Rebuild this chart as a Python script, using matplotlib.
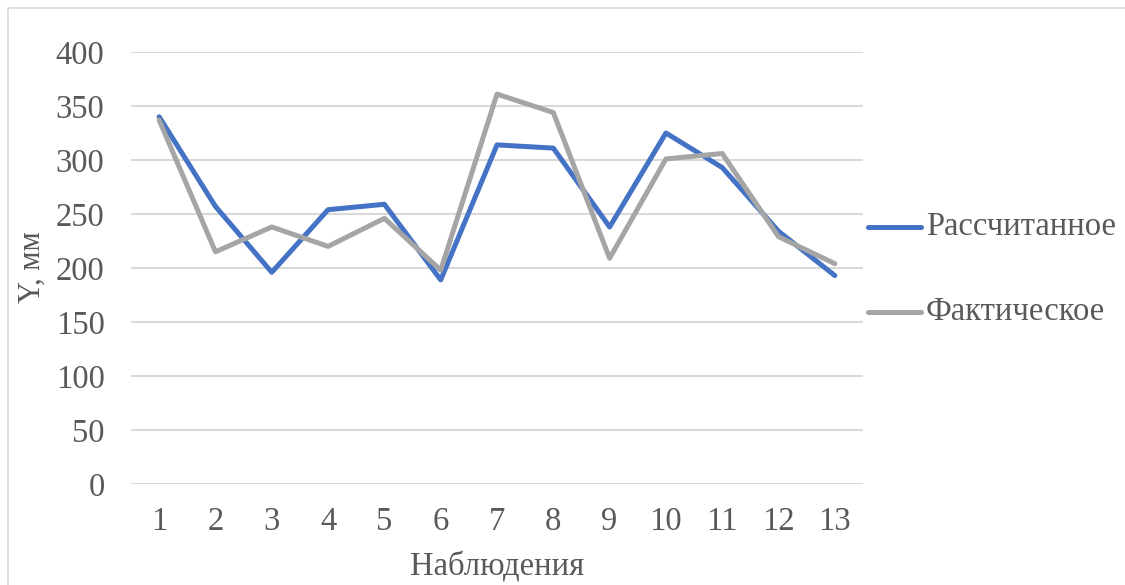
import matplotlib
matplotlib.use("Agg")
import matplotlib.pyplot as plt
from matplotlib.patches import Rectangle
from matplotlib.lines import Line2D

categories = ["1", "2", "3", "4", "5", "6", "7", "8", "9", "10", "11", "12", "13"]
calculated = [340, 257, 196, 254, 259, 189, 314, 311, 238, 325, 293, 234, 193]
actual = [337, 215, 238, 220, 246, 198, 361, 344, 209, 301, 306, 229, 204]
series_names = ["Рассчитанное", "Фактическое"]
y_ticks = [0, 50, 100, 150, 200, 250, 300, 350, 400]

plt.rcParams["font.family"] = ["Liberation Serif", "DejaVu Serif"]

W, H = 1125, 585
fig = plt.figure(figsize=(W / 100, H / 100), dpi=100)

# chart border
fig.patches.append(Rectangle((8 / W, -0.1), 1.2, 1 - 8 / H + 0.1, transform=fig.transFigure,
                             fill=False, edgecolor="#D9D9D9", linewidth=1.2))

ax = fig.add_axes([131 / W, 1 - 484 / H, (863 - 131) / W, (484 - 52) / H])
x = list(range(1, len(categories) + 1))
ax.plot(x, calculated, color="#4472C4", linewidth=3.6, solid_joinstyle="round", solid_capstyle="round")
ax.plot(x, actual, color="#A5A5A5", linewidth=3.6, solid_joinstyle="round", solid_capstyle="round")

ax.set_xlim(0.5, len(categories) + 0.5)
ax.set_ylim(0, 400)
ax.set_yticks(y_ticks)
ax.set_xticks(x)
ax.set_xticklabels(categories)
ax.grid(axis="y", color="#D9D9D9", linewidth=1.5)
ax.set_axisbelow(True)
for s in ax.spines.values():
    s.set_visible(False)
ax.tick_params(length=0, labelsize=23.5, labelcolor="#595959")
ax.tick_params(axis="y", pad=19)
ax.tick_params(axis="x", pad=16)

fig.text(32 / W, 1 - 267 / H, "Y, мм", rotation=90, ha="center", va="center", fontsize=22, color="#595959")
fig.text(497 / W, 1 - 567 / H, "Наблюдения", ha="center", va="center", fontsize=23.5, color="#595959")

# legend
for yy, col, name in [(227, "#4472C4", series_names[0]), (312, "#A5A5A5", series_names[1])]:
    fig.add_artist(Line2D([868 / W, 921 / W], [1 - yy / H, 1 - yy / H], transform=fig.transFigure,
                          color=col, linewidth=3.6, solid_capstyle="round"))
    fig.text(926 / W, 1 - yy / H, name, ha="left", va="center", fontsize=23.5, color="#595959")

fig.savefig("out.png", dpi=100, facecolor="white")
